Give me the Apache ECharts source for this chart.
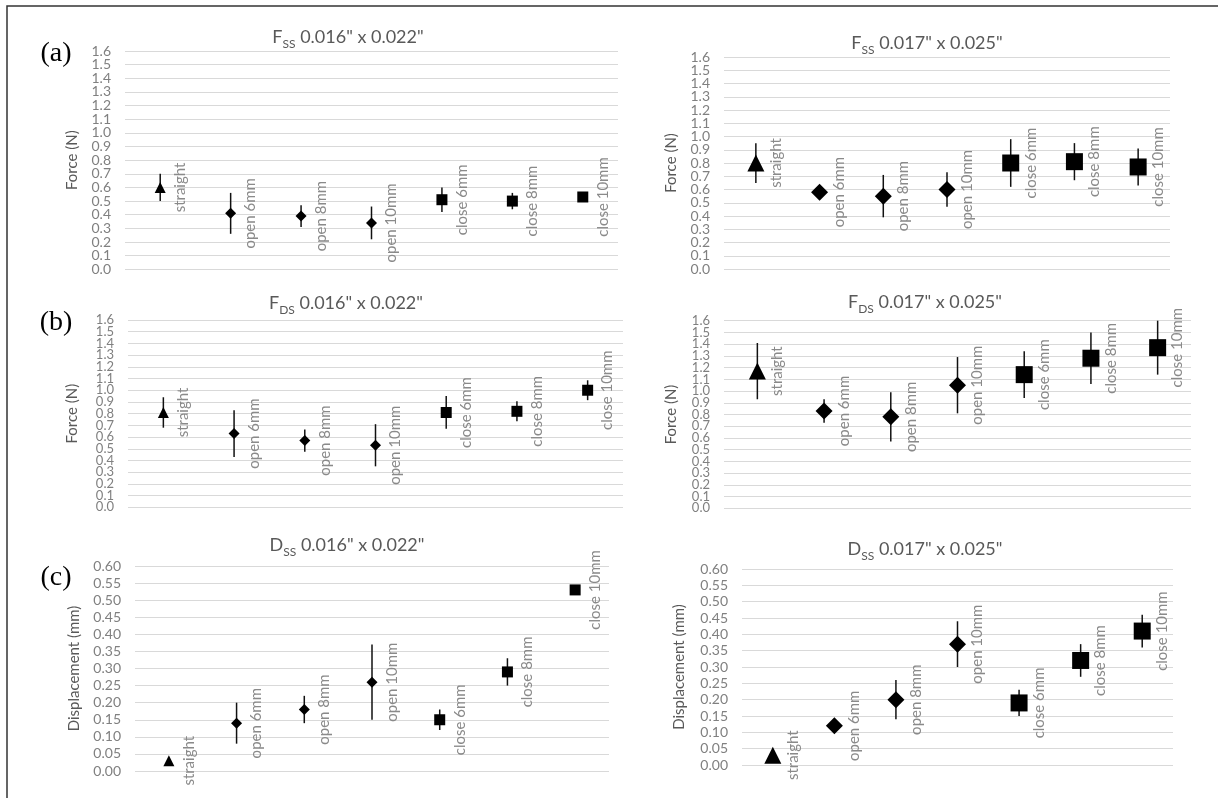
<!DOCTYPE html>
<html><head><meta charset="utf-8">
<script src="https://cdn.jsdelivr.net/npm/echarts@6/dist/echarts.min.js"></script>
<style>html,body{margin:0;padding:0;background:#fff}#c{width:1218px;height:798px}</style>
</head><body><div id="c"></div>
<script>
// ---- data ----
const categories = ['straight', 'open 6mm', 'open 8mm', 'open 10mm', 'close 6mm', 'close 8mm', 'close 10mm'];

const fssSmallMean = [0.60, 0.41, 0.39, 0.34, 0.51, 0.50, 0.53];
const fssSmallErr  = [0.10, 0.15, 0.08, 0.12, 0.09, 0.06, 0.02];

const fssLargeMean = [0.80, 0.58, 0.55, 0.60, 0.80, 0.81, 0.77];
const fssLargeErr  = [0.15, 0.05, 0.16, 0.13, 0.18, 0.14, 0.14];

const fdsSmallMean = [0.81, 0.63, 0.57, 0.53, 0.81, 0.82, 1.00];
const fdsSmallErr  = [0.13, 0.20, 0.095, 0.18, 0.14, 0.085, 0.085];

const fdsLargeMean = [1.17, 0.83, 0.78, 1.05, 1.14, 1.28, 1.37];
const fdsLargeErr  = [0.24, 0.10, 0.21, 0.24, 0.20, 0.22, 0.23];

const dssSmallMean = [0.03, 0.14, 0.18, 0.26, 0.15, 0.29, 0.53];
const dssSmallErr  = [0.005, 0.06, 0.04, 0.11, 0.03, 0.04, 0.01];

const dssLargeMean = [0.03, 0.12, 0.20, 0.37, 0.19, 0.32, 0.41];
const dssLargeErr  = [0.01, 0.02, 0.06, 0.07, 0.04, 0.05, 0.05];

const forceAxis = { max: 1.6, step: 0.1, decimals: 1, name: 'Force (N)' };
const dispAxis  = { max: 0.60, step: 0.05, decimals: 2, name: 'Displacement (mm)' };

const titles = [
  { sym: 'F', sub: 'SS', rest: ' 0.016" x 0.022"' },
  { sym: 'F', sub: 'SS', rest: ' 0.017" x 0.025"' },
  { sym: 'F', sub: 'DS', rest: ' 0.016" x 0.022"' },
  { sym: 'F', sub: 'DS', rest: ' 0.017" x 0.025"' },
  { sym: 'D', sub: 'SS', rest: ' 0.016" x 0.022"' },
  { sym: 'D', sub: 'SS', rest: ' 0.017" x 0.025"' }
];
const panelLetters = ['(a)', '(b)', '(c)'];

// ---- layout ----
const panels = [
  { mean: fssSmallMean, err: fssSmallErr, axis: forceAxis, left: 125, width: 493, top: 51,    height: 218.3, size: 11, gap: 45, tick: 14, tx: 348, ty: 37 },
  { mean: fssLargeMean, err: fssLargeErr, axis: forceAxis, left: 724, width: 446, top: 57,    height: 212,   size: 17, gap: 45, tick: 14, tx: 927, ty: 43 },
  { mean: fdsSmallMean, err: fdsSmallErr, axis: forceAxis, left: 128, width: 495, top: 320,   height: 187.3, size: 11, gap: 48, tick: 13, tx: 346, ty: 303 },
  { mean: fdsLargeMean, err: fdsLargeErr, axis: forceAxis, left: 724, width: 467, top: 320.7, height: 187.6, size: 17, gap: 45, tick: 13, tx: 925, ty: 302 },
  { mean: dssSmallMean, err: dssSmallErr, axis: dispAxis,  left: 135, width: 474, top: 566,   height: 205,   size: 11, gap: 53, tick: 14, tx: 347, ty: 545 },
  { mean: dssLargeMean, err: dssLargeErr, axis: dispAxis,  left: 742, width: 431, top: 569,   height: 196,   size: 17, gap: 55, tick: 14, tx: 925, ty: 549 }
];
const letterPos = [[56, 54], [56, 323], [56, 578]];

const FONT = 'Lato';
function symbolFor(i) { return i === 0 ? 'triangle' : (i <= 3 ? 'diamond' : 'rect'); }

const grid = [], xAxis = [], yAxis = [], series = [];
panels.forEach(function (p, k) {
  grid.push({ left: p.left, top: p.top, width: p.width, height: p.height, containLabel: false });
  xAxis.push({
    type: 'category', gridIndex: k, data: categories, boundaryGap: true,
    axisLine: { show: false }, axisTick: { show: false }, axisLabel: { show: false }, splitLine: { show: false }
  });
  // two stacked left axes on the same scale: one labels even ticks, the other odd ticks
  [0, 1].forEach(function (parity) {
    yAxis.push({
      type: 'value', gridIndex: k, position: 'left', offset: 0,
      min: 0, max: p.axis.max, interval: p.axis.step,
      name: parity === 0 ? p.axis.name : '', nameLocation: 'middle', nameGap: p.gap, nameRotate: 90,
      nameTextStyle: { color: '#595959', fontSize: 15, fontFamily: FONT },
      axisLine: { show: false }, axisTick: { show: false },
      axisLabel: { color: '#808080', fontSize: p.tick, fontFamily: FONT, margin: 14,
        formatter: function (v) {
          const idx = Math.round(v / p.axis.step);
          return (idx % 2 === parity) ? v.toFixed(p.axis.decimals) : '';
        } },
      splitLine: { show: parity === 0, lineStyle: { color: '#d9d9d9', width: 1.2 } }
    });
  });
  const yi = 2 * k;
  series.push({
    type: 'custom', xAxisIndex: k, yAxisIndex: yi, silent: true, z: 2,
    data: p.mean.map(function (m, i) { return [i, m - p.err[i], m + p.err[i]]; }),
    encode: { x: 0, y: [1, 2] },
    renderItem: function (params, api) {
      const a = api.coord([api.value(0), api.value(2)]);
      const b = api.coord([api.value(0), api.value(1)]);
      return { type: 'line', shape: { x1: a[0], y1: a[1], x2: b[0], y2: b[1] },
        style: { stroke: '#111', lineWidth: 1.5 } };
    }
  });
  series.push({
    type: 'scatter', xAxisIndex: k, yAxisIndex: yi, z: 3,
    data: p.mean.map(function (m, i) {
      return { value: [i, m], symbol: symbolFor(i), symbolSize: p.size };
    }),
    itemStyle: { color: '#000', opacity: 1 },
    label: {
      show: true, rotate: 90, position: [p.size / 2 + 20, '50%'],
      align: 'center', verticalAlign: 'middle',
      color: '#8a8a8a', fontSize: 15, fontFamily: FONT,
      formatter: function (prm) { return categories[prm.dataIndex]; }
    }
  });
});

const graphic = [
  { type: 'rect', shape: { x: 7, y: 6, width: 1300, height: 900 }, style: { fill: 'none', stroke: '#333', lineWidth: 1.5 }, silent: true }
];
panelLetters.forEach(function (t, i) {
  graphic.push({ type: 'text', x: letterPos[i][0], y: letterPos[i][1],
    style: { text: t, fontSize: 28, fontFamily: 'Liberation Serif', fill: '#000', align: 'center', verticalAlign: 'middle' } });
});
titles.forEach(function (t, i) {
  const p = panels[i];
  graphic.push({ type: 'text', x: p.tx, y: p.ty,
    style: {
      text: '{m|' + t.sym + '}{s|' + t.sub + '}{m|' + t.rest + '}',
      align: 'center', verticalAlign: 'middle',
      rich: {
        m: { fontSize: 18, fontFamily: FONT, fill: '#595959', lineHeight: 26, verticalAlign: 'middle' },
        s: { fontSize: 12, fontFamily: FONT, fill: '#595959', lineHeight: 26, verticalAlign: 'bottom' }
      }
    } });
});

const chart = echarts.init(document.getElementById('c'), null, { renderer: 'canvas' });
chart.setOption({ animation: false, backgroundColor: '#fff', grid: grid, xAxis: xAxis, yAxis: yAxis, series: series, graphic: graphic });
</script>
</body></html>
